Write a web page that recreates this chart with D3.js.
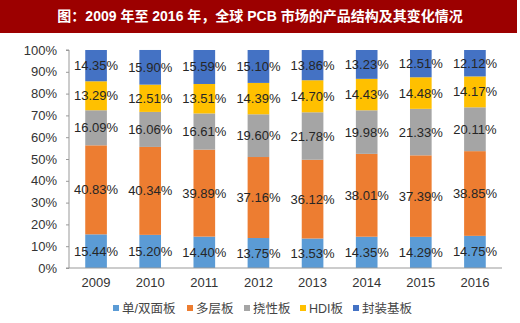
<!DOCTYPE html>
<html><head><meta charset="utf-8">
<script src="https://cdn.jsdelivr.net/npm/d3@7"></script>
<style>body{margin:0;background:#fff}svg{display:block}</style>
</head><body><svg id="c" width="520" height="323"></svg>
<script>
const years = ["2009","2010","2011","2012","2013","2014","2015","2016"];
const seriesNames = ["单/双面板","多层板","挠性板","HDI板","封装基板"];
const single = [15.44,15.20,14.40,13.75,13.53,14.35,14.29,14.75];
const multi  = [40.83,40.34,39.89,37.16,36.12,38.01,37.39,38.85];
const flex   = [16.09,16.06,16.61,19.60,21.78,19.98,21.33,20.11];
const hdi    = [13.29,12.51,13.51,14.39,14.70,14.43,14.48,14.17];
const pkg    = [14.35,15.90,15.59,15.10,13.86,13.23,12.51,12.12];
const yTicks = [0,10,20,30,40,50,60,70,80,90,100];
const colors = ["#5B9BD5","#ED7D31","#A5A5A5","#FFC000","#4472C4"];
const titleText = "图：2009 年至 2016 年，全球 PCB 市场的产品结构及其变化情况";

const svg = d3.select("#c");
const font = "'Liberation Sans', Arial, 'Noto Sans CJK SC', sans-serif";
svg.append("rect").attr("x",0).attr("y",0).attr("width",517).attr("height",33).attr("fill","#9C0000");
svg.append("text").attr("x",260).attr("y",21).attr("text-anchor","middle").attr("fill","#fff")
  .attr("font-family",font).attr("font-weight","bold").attr("font-size",14).text(titleText);

const pLeft=69, pRight=502, pTop=50, pBottom=268;
const x = d3.scaleBand().domain(years).range([pLeft,pRight]).paddingInner(0.6).paddingOuter(0.3);
const y = d3.scaleLinear().domain([0,100]).range([pBottom,pTop]);

const all = [single,multi,flex,hdi,pkg];
const rows = years.map((yr,i)=>{const o={year:yr}; seriesNames.forEach((s,k)=>o[s]=all[k][i]); return o;});
const stack = d3.stack().keys(seriesNames)(rows);

const g = svg.append("g");
stack.forEach((layer,k)=>{
  g.selectAll(null).data(layer).enter().append("rect")
    .attr("x",d=>x(d.data.year)).attr("width",x.bandwidth())
    .attr("y",d=>y(d[1])).attr("height",d=>y(d[0])-y(d[1]))
    .attr("fill",colors[k]);
  g.selectAll(null).data(layer).enter().append("text")
    .attr("x",d=>x(d.data.year)+x.bandwidth()/2).attr("y",d=>y((d[0]+d[1])/2)+4.5)
    .attr("text-anchor","middle").attr("font-family",font).attr("font-size",13).attr("fill","#262626")
    .text(d=>d.data[seriesNames[k]].toFixed(2)+"%");
});

const ya = svg.append("g").attr("transform",`translate(${pLeft},0)`)
  .call(d3.axisLeft(y).tickValues(yTicks).tickFormat(d=>d+"%").tickSize(3).tickPadding(9));
ya.select(".domain").attr("stroke","#999").attr("d",`M-3,${pTop}H0V${pBottom}H-3`);
ya.selectAll(".tick line").attr("stroke","#999");
ya.selectAll("text").attr("font-family",font).attr("font-size",13).attr("fill","#333");

const xa = svg.append("g").attr("transform",`translate(0,${pBottom})`)
  .call(d3.axisBottom(x).tickSize(0).tickPadding(10));
xa.select(".domain").attr("stroke","#999").attr("d",`M${pLeft},0H${pRight}`);
xa.selectAll("text").attr("font-family",font).attr("font-size",13).attr("fill","#333");

const lx = [113,187,244,300,353];
const lg = svg.append("g");
seriesNames.forEach((s,k)=>{
  lg.append("rect").attr("x",lx[k]).attr("y",305).attr("width",6).attr("height",6).attr("fill",colors[k]);
  lg.append("text").attr("x",lx[k]+9).attr("y",312.5).attr("font-family",font).attr("font-size",12.5).attr("fill","#444").text(s);
});
</script></body></html>
